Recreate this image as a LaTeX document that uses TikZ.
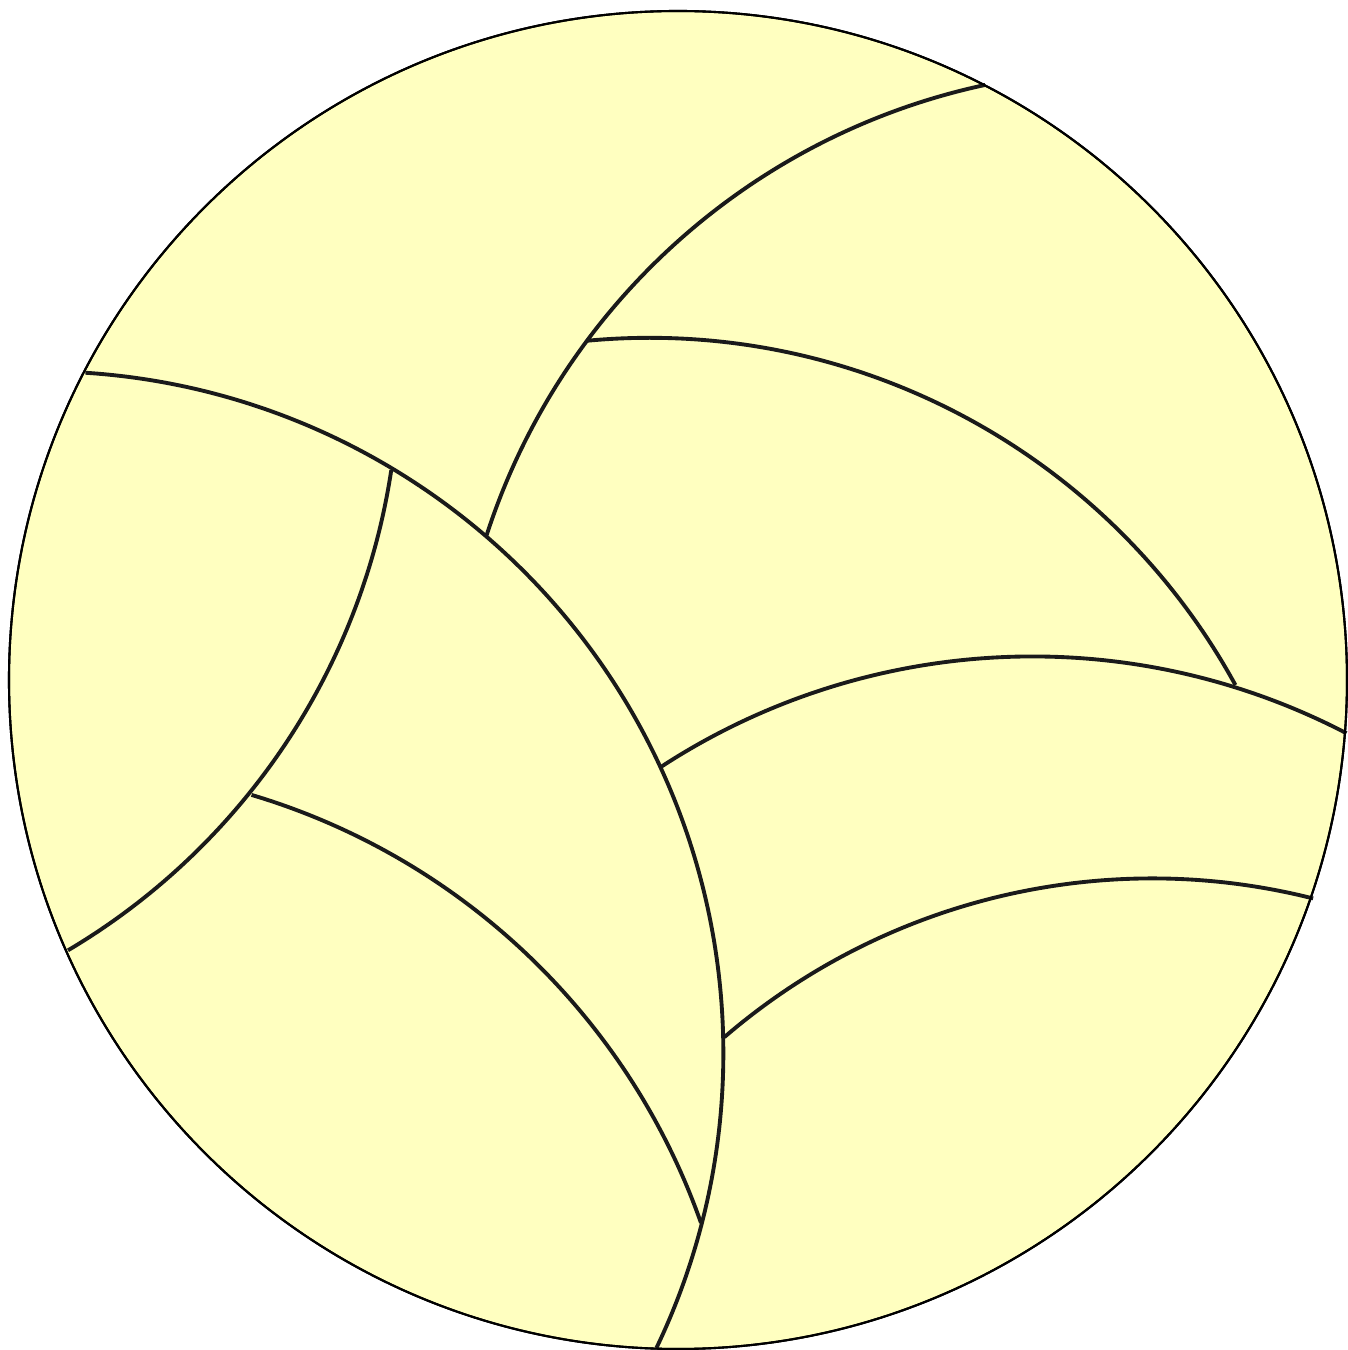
\documentclass[tikz,border=0pt]{standalone}
\usepackage{tikz}
\definecolor{ballfill}{RGB}{255, 255, 192}
\definecolor{seamgray}{RGB}{26, 26, 26}

\begin{document}
\begin{tikzpicture}[
    ball/.style={draw=black, fill=ballfill, line width=0.6pt},
    seam/.style={draw=seamgray, line width=1.1pt}
]
    \useasboundingbox (0,0) rectangle (13.47,13.50);

    % centres of the ball and of the seam arcs
    \coordinate (ctr) at (6.78,6.70);
    \coordinate (cTop) at (11.26,6.08);
    \coordinate (cUpper) at (6.495,3.442);
    \coordinate (cLong) at (0.414,2.967);
    \coordinate (cLeft) at (-2.771,9.809);
    \coordinate (cLow) at (0.563,-0.999);
    \coordinate (cMid) at (10.325,0.136);
    \coordinate (cBottom) at (11.522,-1.844);

    \path [ball] (ctr) circle [radius=6.69];

    \draw [seam] (cTop) ++(102.1:6.72) arc [start angle=102.1, end angle=162.2, radius=6.72];
    \draw [seam] (cUpper) ++(95.3:6.68) arc [start angle=95.3, end angle=28.7, radius=6.68];
    \draw [seam] (cLong) ++(86.3:6.82) arc [start angle=86.3, end angle=-25.6, radius=6.82];
    \draw [seam] (cLeft) ++(-8.6:6.76) arc [start angle=-8.6, end angle=-59.3, radius=6.76];
    \draw [seam] (cLow) ++(73.4:6.835) arc [start angle=73.4, end angle=19.4, radius=6.835];
    \draw [seam] (cMid) ++(123.2:6.80) arc [start angle=123.2, end angle=62.5, radius=6.80];
    \draw [seam] (cBottom) ++(130.7:6.56) arc [start angle=130.7, end angle=75.8, radius=6.56];

    \draw [draw=black, line width=0.6pt] (ctr) circle [radius=6.69];

\end{tikzpicture}
\end{document}
